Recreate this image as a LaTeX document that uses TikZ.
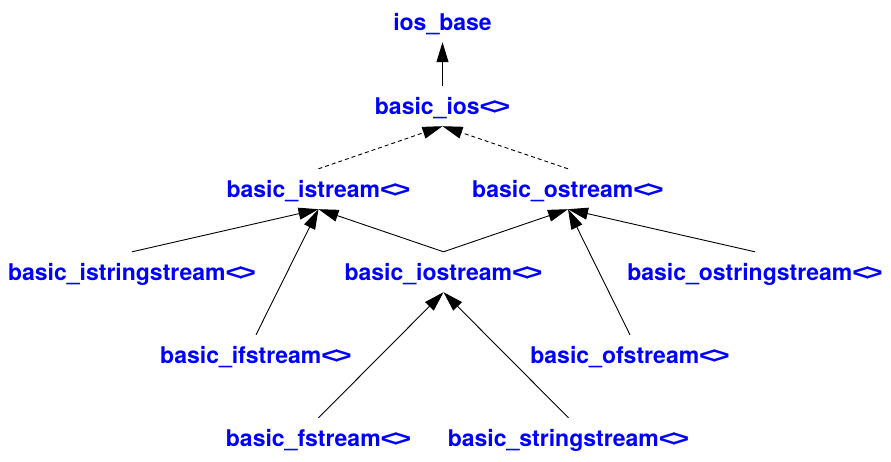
\documentclass[tikz,border=0pt]{standalone}
\usepackage{fontspec}
\setmainfont{TeX Gyre Heros}
\newfontfamily\angfont{Liberation Sans}
\usetikzlibrary{arrows.meta}

% template brackets drawn as one diamond
\newcommand{\tmplarg}{{\angfont\scalebox{1.25}[1]{<}\kern-0.14em\scalebox{1.25}[1]{>}}}

\begin{document}
\begin{tikzpicture}[
    x=1pt, y=-1pt,
    font=\fontsize{23}{27}\selectfont\bfseries,
    cls/.style={
        text=blue,
        inner sep=0pt,
        text height=16pt,
        text depth=0pt,
        minimum height=40pt
    },
    arrow/.style={line width=0.9pt, -{Triangle[length=20pt, width=12pt]}},
    weak/.style={arrow, dash pattern=on 4pt off 3pt}
]
    \useasboundingbox (0,0) rectangle (891,461);

    \node (iosbase) [cls] at (442.5,22) {ios\_base};
    \node (ios) [cls] at (442.5,106) {basic\_ios\tmplarg};

    \node (istream) [cls] at (318.5,189) {basic\_istream\tmplarg};
    \node (ostream) [cls] at (568,189) {basic\_ostream\tmplarg};

    \node (istringstream) [cls] at (132,272) {basic\_istringstream\tmplarg};
    \node (iostream) [cls] at (443.5,272) {basic\_iostream\tmplarg};
    \node (ostringstream) [cls] at (755,272) {basic\_ostringstream\tmplarg};

    \node (ifstream) [cls] at (256,355) {basic\_ifstream\tmplarg};
    \node (ofstream) [cls] at (630,355) {basic\_ofstream\tmplarg};

    \node (fstream) [cls] at (318.5,438) {basic\_fstream\tmplarg};
    \node (stringstream) [cls] at (568.5,438) {basic\_stringstream\tmplarg};

    \draw [arrow] (ios.north) -- (iosbase.south);

    \draw [weak] (istream.north) -- (ios.south);
    \draw [weak] (ostream.north) -- (ios.south);

    \draw [arrow] (istringstream.north) -- (istream.south);
    \draw [arrow] (ifstream.north) -- (istream.south);
    \draw [arrow] (iostream.north) -- (istream.south);
    \draw [arrow] (iostream.north) -- (ostream.south);
    \draw [arrow] (ostringstream.north) -- (ostream.south);
    \draw [arrow] (ofstream.north) -- (ostream.south);

    \draw [arrow] (fstream.north) -- (iostream.south);
    \draw [arrow] (stringstream.north) -- (iostream.south);

\end{tikzpicture}
\end{document}
